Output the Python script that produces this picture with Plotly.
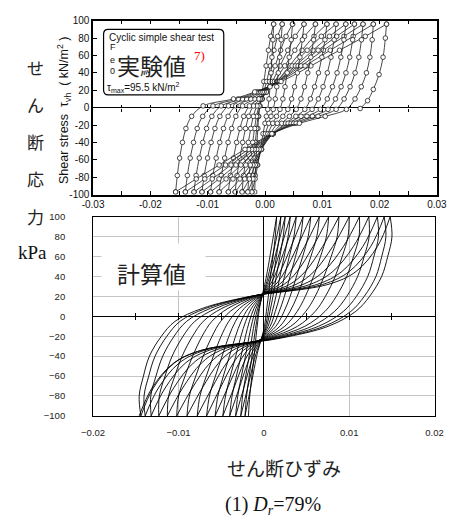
import plotly.graph_objects as go

# ---------------- data: experimental (top panel) ----------------
TEST_LOAD_TAU = [-97, -78, -58, -40, -24, -10, 2, 10, 18, 30, 48, 66, 82, 96]
TEST_LOAD_STRAIN = [
    [-0.0018, -0.0017, -0.00155, -0.0014, -0.00125, -0.0011, -0.0009, -0.0007, -0.0005, -0.0002, 0.0002, 0.0006, 0.0010, 0.0015],
    [-0.0023, -0.00215, -0.00192, -0.00169, -0.00145, -0.00122, -0.0009, -0.00055, -0.00022, 0.00028, 0.00092, 0.00157, 0.00221, 0.0030],
    [-0.0030, -0.00279, -0.00247, -0.00215, -0.00182, -0.00149, -0.00102, -0.00046, 0.00005, 0.0008, 0.00176, 0.00272, 0.00367, 0.0048],
    [-0.0040, -0.00373, -0.00332, -0.00291, -0.00248, -0.00204, -0.0014, -0.00055, 0.00021, 0.00127, 0.00263, 0.00397, 0.00528, 0.0068],
    [-0.0052, -0.00488, -0.00439, -0.0039, -0.00339, -0.00284, -0.00202, -0.0008, 0.00023, 0.00166, 0.00344, 0.0052, 0.0069, 0.0088],
    [-0.0064, -0.00604, -0.0055, -0.00495, -0.00437, -0.00372, -0.00272, -0.00109, 0.00024, 0.00205, 0.00427, 0.00646, 0.00855, 0.0108],
    [-0.0080, -0.00762, -0.00704, -0.00645, -0.00582, -0.00509, -0.00392, -0.00182, -0.00016, 0.00205, 0.00473, 0.00735, 0.00983, 0.0124],
    [-0.0095, -0.00911, -0.00852, -0.0079, -0.00725, -0.00644, -0.0051, -0.00249, -0.00047, 0.00216, 0.0053, 0.00837, 0.01124, 0.0141],
    [-0.0110, -0.01061, -0.01003, -0.00941, -0.00874, -0.00788, -0.00638, -0.00324, -0.00087, 0.00218, 0.00577, 0.00926, 0.0125, 0.0156],
    [-0.0124, -0.01202, -0.01147, -0.01086, -0.0102, -0.00928, -0.00764, -0.00394, -0.00122, 0.00225, 0.00629, 0.0102, 0.01379, 0.0171],
    [-0.0139, -0.01355, -0.01305, -0.01247, -0.01183, -0.01088, -0.00908, -0.00468, -0.00152, 0.00244, 0.00699, 0.01139, 0.01539, 0.0189],
    [-0.0156, -0.0153, -0.0149, -0.0144, -0.0138, -0.0128, -0.0108, -0.0055, -0.0018, 0.0028, 0.0080, 0.0130, 0.0175, 0.0212],
]
TEST_UNLOAD_TAU = [96, 78, 58, 40, 24, 10, -2, -10, -18, -30, -48, -66, -82, -97]
TEST_UNLOAD_STRAIN = [
    [0.0015, 0.00139, 0.00121, 0.00105, 0.00087, 0.0007, 0.00047, 0.00024, 0.0, -0.00034, -0.00081, -0.00127, -0.00173, -0.0023],
    [0.0030, 0.00283, 0.00257, 0.00232, 0.00205, 0.00179, 0.00143, 0.00105, 0.00065, 0.00008, -0.00066, -0.00139, -0.00211, -0.0030],
    [0.0048, 0.00457, 0.00422, 0.00387, 0.00349, 0.00312, 0.00261, 0.00201, 0.00136, 0.00049, -0.0006, -0.00168, -0.00274, -0.0040],
    [0.0068, 0.00652, 0.00609, 0.00564, 0.00515, 0.00465, 0.00398, 0.00311, 0.00214, 0.00089, -0.00062, -0.0021, -0.00354, -0.0052],
    [0.0088, 0.00848, 0.00799, 0.00746, 0.00688, 0.00627, 0.00544, 0.00426, 0.00293, 0.00127, -0.00066, -0.00256, -0.00437, -0.0064],
    [0.0108, 0.01046, 0.00992, 0.00933, 0.00865, 0.00793, 0.00695, 0.00538, 0.00358, 0.00142, -0.001, -0.00336, -0.00559, -0.0080],
    [0.0124, 0.01206, 0.01151, 0.01087, 0.01013, 0.00931, 0.00821, 0.00628, 0.00403, 0.00141, -0.00143, -0.00421, -0.0068, -0.0095],
    [0.0141, 0.01377, 0.01323, 0.01257, 0.01177, 0.01087, 0.00965, 0.00732, 0.00456, 0.00143, -0.00187, -0.00508, -0.00803, -0.0110],
    [0.0156, 0.01529, 0.01478, 0.01412, 0.01328, 0.0123, 0.01099, 0.00827, 0.00501, 0.0014, -0.00232, -0.00593, -0.00921, -0.0124],
    [0.0171, 0.01683, 0.01637, 0.01572, 0.01484, 0.0138, 0.01241, 0.00925, 0.00544, 0.00129, -0.00287, -0.0069, -0.01051, -0.0139],
    [0.0189, 0.0187, 0.0183, 0.0177, 0.0168, 0.0157, 0.0142, 0.0105, 0.0060, 0.0012, -0.0035, -0.0080, -0.0120, -0.0156],
]
TEST_LAST_TAU = [96, 80, 58, 38, 21, 8, -1]
TEST_LAST_STRAIN = [0.0212, 0.0210, 0.0206, 0.0199, 0.0189, 0.0179, 0.0166]

# ---------------- data: calculated (bottom panel) ----------------
CALC_LOAD_TAU = [-100, -80, -60, -40, -20, -5, 8, 20, 32, 45, 70, 100]
CALC_LOAD_STRAIN = [
    [-0.0018, -0.00165, -0.0014, -0.00114, -0.00091, -0.00071, -0.00051, -0.00022, 0.00011, 0.00041, 0.00091, 0.0015],
    [-0.0022, -0.00202, -0.00171, -0.00139, -0.0011, -0.00084, -0.00058, -0.00019, 0.00026, 0.00064, 0.00127, 0.0020],
    [-0.0027, -0.00249, -0.00212, -0.00172, -0.00137, -0.00106, -0.00072, -0.00022, 0.00038, 0.00086, 0.00161, 0.0025],
    [-0.0033, -0.00305, -0.00262, -0.00215, -0.00172, -0.00134, -0.00091, -0.00026, 0.00054, 0.00114, 0.00205, 0.0031],
    [-0.0040, -0.00372, -0.00321, -0.00267, -0.00215, -0.00169, -0.00115, -0.00031, 0.00076, 0.00149, 0.00257, 0.0038],
    [-0.0048, -0.00449, -0.00392, -0.00329, -0.00268, -0.00212, -0.00145, -0.00038, 0.00103, 0.00193, 0.00319, 0.0046],
    [-0.0057, -0.00538, -0.00474, -0.00403, -0.00331, -0.00266, -0.00182, -0.00047, 0.00138, 0.00246, 0.00392, 0.0055],
    [-0.0067, -0.00637, -0.00567, -0.00489, -0.00409, -0.00332, -0.00228, -0.00058, 0.00181, 0.00312, 0.00477, 0.0065],
    [-0.0078, -0.00748, -0.00674, -0.00591, -0.0050, -0.0041, -0.00283, -0.00072, 0.00235, 0.0039, 0.00575, 0.0076],
    [-0.0090, -0.00872, -0.00797, -0.0071, -0.00606, -0.00505, -0.00348, -0.00087, 0.00302, 0.00485, 0.00688, 0.0088],
    [-0.0102, -0.00998, -0.00923, -0.00834, -0.00723, -0.00608, -0.0042, -0.00105, 0.00376, 0.00588, 0.00806, 0.0100],
    [-0.0113, -0.01115, -0.01043, -0.00957, -0.00835, -0.00709, -0.00491, -0.0012, 0.00459, 0.00699, 0.00931, 0.0112],
    [-0.0123, -0.01224, -0.01157, -0.01074, -0.00946, -0.00808, -0.0056, -0.00134, 0.0054, 0.00808, 0.01048, 0.0123],
    [-0.0132, -0.01324, -0.01263, -0.01184, -0.01051, -0.00904, -0.00626, -0.00148, 0.00621, 0.00914, 0.01159, 0.0133],
    [-0.0139, -0.01403, -0.01348, -0.01274, -0.01136, -0.00981, -0.0068, -0.00158, 0.00688, 0.01001, 0.01251, 0.0141],
    [-0.0144, -0.0146, -0.0141, -0.0134, -0.0120, -0.0104, -0.0072, -0.0016, 0.0075, 0.0108, 0.0133, 0.0148],
]
CALC_UNLOAD_TAU = [100, 80, 60, 40, 20, 5, -10, -22, -34, -47, -72, -100]
CALC_UNLOAD_STRAIN = [
    [0.0015, 0.00134, 0.00107, 0.00078, 0.00053, 0.0003, 0.00008, -0.00027, -0.00067, -0.001, -0.00155, -0.0022],
    [0.0020, 0.00181, 0.00147, 0.00112, 0.0008, 0.00051, 0.00021, -0.00024, -0.00078, -0.00121, -0.0019, -0.0027],
    [0.0025, 0.00227, 0.00188, 0.00146, 0.00107, 0.00072, 0.00034, -0.00026, -0.00098, -0.00152, -0.00235, -0.0033],
    [0.0031, 0.00284, 0.00238, 0.00189, 0.00142, 0.0010, 0.00051, -0.00026, -0.00123, -0.0019, -0.00288, -0.0040],
    [0.0038, 0.00352, 0.00299, 0.00242, 0.00186, 0.00135, 0.00074, -0.00024, -0.00153, -0.00236, -0.00351, -0.0048],
    [0.0046, 0.0043, 0.00371, 0.00307, 0.00241, 0.00181, 0.00104, -0.00021, -0.00191, -0.00291, -0.00425, -0.0057],
    [0.0055, 0.00519, 0.00455, 0.00383, 0.00308, 0.00238, 0.00141, -0.00016, -0.00237, -0.00358, -0.0051, -0.0067],
    [0.0065, 0.0062, 0.00551, 0.00474, 0.0039, 0.00307, 0.00188, -0.00008, -0.00292, -0.00437, -0.00608, -0.0078],
    [0.0076, 0.00733, 0.00664, 0.00582, 0.00486, 0.00391, 0.00245, 0.00001, -0.00361, -0.00531, -0.00721, -0.0090],
    [0.0088, 0.00859, 0.00789, 0.00705, 0.00601, 0.00492, 0.00316, 0.00019, -0.00433, -0.00632, -0.00838, -0.0102],
    [0.0100, 0.00986, 0.00918, 0.00836, 0.00721, 0.00602, 0.00395, 0.00044, -0.00504, -0.00732, -0.00951, -0.0113],
    [0.0112, 0.01115, 0.0105, 0.00971, 0.00849, 0.00717, 0.0048, 0.00073, -0.00571, -0.00827, -0.01056, -0.0123],
    [0.0123, 0.01234, 0.01175, 0.01099, 0.00971, 0.00829, 0.00562, 0.00102, -0.00637, -0.00919, -0.01156, -0.0132],
    [0.0133, 0.01343, 0.01289, 0.01217, 0.01084, 0.00933, 0.0064, 0.00133, -0.00689, -0.00993, -0.01235, -0.0139],
    [0.0141, 0.0143, 0.01381, 0.01313, 0.01176, 0.0102, 0.00706, 0.00162, -0.00728, -0.0105, -0.01295, -0.0144],
    [0.0148, 0.01501, 0.01451, 0.0138, 0.01239, 0.01077, 0.00754, 0.00192, -0.00725, -0.01057, -0.0131, -0.0146],
]

# ---------------- ticks ----------------
TOP_X_TICKVALS = [-0.03, -0.02, -0.01, 0, 0.01, 0.02, 0.03]
TOP_X_TICKTEXT = ["-0.03", "-0.02", "-0.01", "0.00", "0.01", "0.02", "0.03"]
ZERO_TICKS_TOP = [-0.025, -0.02, -0.015, -0.01, -0.005, 0.005, 0.01, 0.015, 0.02, 0.025]
Y_TICKVALS = [-100, -80, -60, -40, -20, 0, 20, 40, 60, 80, 100]
TOP_Y_TICKTEXT = ["-100", "-80", "-60", "-40", "-20", "0", "20", "40", "60", "80", "100"]
BOT_Y_TICKTEXT = ["\u2212100", "\u221280", "\u221260", "\u221240", "\u221220", "0", "20", "40", "60", "80", "100"]
BOT_X_TICKVALS = [-0.02, -0.01, 0, 0.01, 0.02]
BOT_X_TICKTEXT = ["\u22120.02", "\u22120.01", "0", "0.01", "0.02"]
ZERO_TICKS_BOT = [-0.015, -0.01, -0.005, 0.005, 0.01, 0.015]

W, H = 455, 525


def px(v):
    return v / W


def py(v):
    return 1 - v / H


LINE_TOP = "#1c1c1c"
fig = go.Figure()

marker_top = dict(symbol="circle", size=4.6, color="white", line=dict(color=LINE_TOP, width=0.8))
for xs in TEST_LOAD_STRAIN:
    fig.add_trace(go.Scatter(x=xs, y=TEST_LOAD_TAU, xaxis="x", yaxis="y", mode="lines+markers",
                             line=dict(color=LINE_TOP, width=0.8, shape="spline"), marker=marker_top,
                             hoverinfo="skip", showlegend=False))
for xs in TEST_UNLOAD_STRAIN:
    fig.add_trace(go.Scatter(x=xs, y=TEST_UNLOAD_TAU, xaxis="x", yaxis="y", mode="lines+markers",
                             line=dict(color=LINE_TOP, width=0.8, shape="spline"), marker=marker_top,
                             hoverinfo="skip", showlegend=False))
fig.add_trace(go.Scatter(x=TEST_LAST_STRAIN, y=TEST_LAST_TAU, xaxis="x", yaxis="y", mode="lines+markers",
                         line=dict(color=LINE_TOP, width=0.8, shape="spline"), marker=marker_top,
                         hoverinfo="skip", showlegend=False))

for xs in CALC_LOAD_STRAIN:
    fig.add_trace(go.Scatter(x=xs, y=CALC_LOAD_TAU, xaxis="x2", yaxis="y2", mode="lines",
                             line=dict(color="black", width=0.9, shape="spline"),
                             hoverinfo="skip", showlegend=False))
for xs in CALC_UNLOAD_STRAIN:
    fig.add_trace(go.Scatter(x=xs, y=CALC_UNLOAD_TAU, xaxis="x2", yaxis="y2", mode="lines",
                             line=dict(color="black", width=0.9, shape="spline"),
                             hoverinfo="skip", showlegend=False))

# empty traces so the tick-only overlay axes are drawn
for ax, yax in (("x3", "y"), ("x4", "y"), ("x5", "y2"), ("x6", "y2")):
    fig.add_trace(go.Scatter(x=[None], y=[None], xaxis=ax, yaxis=yax, mode="lines",
                             hoverinfo="skip", showlegend=False))

tickfont_top = dict(family="Liberation Sans", size=10, color="#111")
tickfont_bot = dict(family="Liberation Sans", size=9.5, color="#222")

zero_tick_axis = dict(anchor="free", showline=False, showgrid=False, zeroline=False,
                      showticklabels=False, ticklen=3, tickcolor="black", tickwidth=1)

fig.update_layout(
    width=W, height=H, margin=dict(l=0, r=0, t=0, b=0),
    paper_bgcolor="white", plot_bgcolor="white", showlegend=False,
    xaxis=dict(domain=[px(85), px(445.5)], range=[-0.03, 0.03], anchor="y",
               tickmode="array", tickvals=TOP_X_TICKVALS, ticktext=TOP_X_TICKTEXT,
               ticks="inside", ticklen=4, tickcolor="black", tickwidth=1, mirror="ticks",
               minor=dict(dtick=0.005, tick0=0, ticks="inside", ticklen=4, tickcolor="black", tickwidth=1),
               showline=True, linecolor="black", linewidth=1.5, showgrid=False, zeroline=False,
               tickfont=tickfont_top),
    yaxis=dict(domain=[py(193), py(15)], range=[-100, 100], anchor="x",
               tickmode="array", tickvals=Y_TICKVALS, ticktext=TOP_Y_TICKTEXT,
               ticks="inside", ticklen=4, tickcolor="black", tickwidth=1, mirror="ticks",
               showline=True, linecolor="black", linewidth=1.5, showgrid=False,
               zeroline=True, zerolinecolor="black", zerolinewidth=1.1,
               tickfont=tickfont_top),
    xaxis2=dict(domain=[px(85), px(443)], range=[-0.02, 0.02], anchor="y2",
                tickmode="array", tickvals=BOT_X_TICKVALS, ticktext=BOT_X_TICKTEXT,
                ticks="outside", ticklen=8, tickcolor="rgba(0,0,0,0)",
                showline=True, mirror=True, linecolor="black", linewidth=1,
                showgrid=True, gridcolor="#c4c4c4", gridwidth=1.3,
                zeroline=True, zerolinecolor="black", zerolinewidth=1.2,
                tickfont=tickfont_bot),
    yaxis2=dict(domain=[py(419.5), py(215.7)], range=[-100, 100], anchor="x2",
                tickmode="array", tickvals=Y_TICKVALS, ticktext=BOT_Y_TICKTEXT,
                ticks="outside", ticklen=25, tickcolor="rgba(0,0,0,0)",
                showline=True, mirror=True, linecolor="black", linewidth=1,
                showgrid=True, gridcolor="#c4c4c4", gridwidth=1.3,
                zeroline=True, zerolinecolor="black", zerolinewidth=1.2,
                tickfont=tickfont_bot),
    xaxis3=dict(overlaying="x", range=[-0.03, 0.03], position=py(104), ticks="inside",
                tickmode="array", tickvals=ZERO_TICKS_TOP, **zero_tick_axis),
    xaxis4=dict(overlaying="x", range=[-0.03, 0.03], position=py(104), ticks="outside",
                tickmode="array", tickvals=ZERO_TICKS_TOP, **zero_tick_axis),
    xaxis5=dict(overlaying="x2", range=[-0.02, 0.02], position=py(317.6), ticks="inside",
                tickmode="array", tickvals=ZERO_TICKS_BOT, **zero_tick_axis),
    xaxis6=dict(overlaying="x2", range=[-0.02, 0.02], position=py(317.6), ticks="outside",
                tickmode="array", tickvals=ZERO_TICKS_BOT, **zero_tick_axis),
)

# rounded legend box of the experimental panel
bx0, bx1, by0, by1 = px(96), px(222), py(91), py(24)
rx, ry = 5 / W, 5 / H
box_path = (f"M {bx0+rx},{by1} L {bx1-rx},{by1} Q {bx1},{by1} {bx1},{by1-ry} "
            f"L {bx1},{by0+ry} Q {bx1},{by0} {bx1-rx},{by0} L {bx0+rx},{by0} "
            f"Q {bx0},{by0} {bx0},{by0+ry} L {bx0},{by1-ry} Q {bx0},{by1} {bx0+rx},{by1} Z")
fig.add_shape(type="path", path=box_path, xref="paper", yref="paper",
              line=dict(color="black", width=1.2), fillcolor="white", layer="above")

JP = "Noto Sans CJK JP"
ann = []


def add(text, x, y, size, family="Liberation Sans", color="#111", xanchor="center", **kw):
    ann.append(dict(text=text, x=px(x), y=py(y), xref="paper", yref="paper", showarrow=False,
                    xanchor=xanchor, yanchor="middle", font=dict(family=family, size=size, color=color), **kw))


# left vertical label
for ch, yy in zip(["せ", "ん", "断", "応", "力"], [63, 101, 139, 177, 215]):
    add(ch, 25, yy, 17, family=JP, color="#222")
add("kPa", 21, 252, 19, family="Liberation Serif", color="#111")

# top y axis title
add("Shear stress  τ<sub>vh</sub>  ( kN/m<sup>2</sup> )", 54, 107, 12.5, textangle=-90)

# legend box texts
add("Cyclic simple shear test", 100, 32, 10, xanchor="left")
add("F", 101, 42, 9, xanchor="left")
add("e", 101, 55, 9, xanchor="left")
add("0", 101, 67, 9, xanchor="left")
add("τ<sub>max</sub>=95.5 kN/m<sup>2</sup>", 97.5, 83, 10, xanchor="left")
add("実験値", 146.5, 60, 23, family=JP, color="#222")
add("7)", 197, 51, 13, family="Liberation Serif", color="red")

# bottom panel label with white background
ann.append(dict(text="&nbsp;", x=px(148.5), y=py(267.5), xref="paper", yref="paper", showarrow=False,
                width=103, height=46, bgcolor="white", borderpad=0, xanchor="center", yanchor="middle"))
add("計算値", 146, 273, 23, family=JP, color="#222")

# bottom captions
add("せん断ひずみ", 285, 472, 19, family=JP, color="#222")
add("(1) <i>D</i><sub><i>r</i></sub>=79%", 274, 511, 20, family="Liberation Serif", color="#111")

fig.update_layout(annotations=ann)
fig.write_html("out.html", config={"displayModeBar": False},
               post_script="document.body.style.margin='0';document.body.style.overflow='hidden';"
                           "document.documentElement.style.overflow='hidden';")
